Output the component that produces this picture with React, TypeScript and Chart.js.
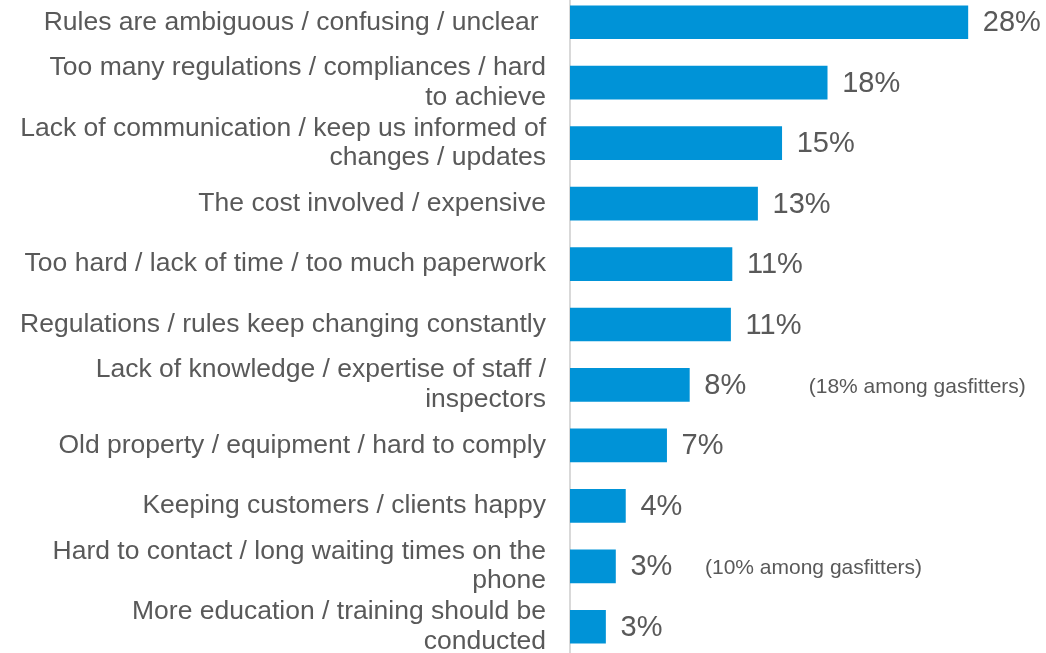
import React, { useEffect, useRef } from "react";
import { Chart, registerables } from "chart.js";

Chart.register(...registerables);

const categories: (string | string[])[] = [
  "Rules are ambiguous / confusing / unclear ",
  ["Too many regulations / compliances / hard", "to achieve"],
  ["Lack of communication / keep us informed of", "changes / updates"],
  "The cost involved / expensive",
  "Too hard / lack of time / too much paperwork",
  "Regulations / rules keep changing constantly",
  ["Lack of knowledge / expertise of staff /", "inspectors"],
  "Old property / equipment / hard to comply",
  "Keeping customers / clients happy",
  ["Hard to contact / long waiting times on the", "phone"],
  ["More education / training should be", "conducted"],
];

const values: number[] = [28, 18.1, 14.9, 13.2, 11.4, 11.3, 8.4, 6.8, 3.9, 3.2, 2.5];
const valueLabels: string[] = ["28%", "18%", "15%", "13%", "11%", "11%", "8%", "7%", "4%", "3%", "3%"];

const noteTexts: string[] = ["(18% among gasfitters)", "(10% among gasfitters)"];
const noteIndex: number[] = [6, 9];
const noteAt: number[] = [16.8, 9.5];

const FONT = "Arial, 'Liberation Sans', Helvetica, sans-serif";
const TEXT = "#595959";
const BAR = "#0093d7";

const labelPlugin = {
  id: "valueLabels",
  afterDatasetsDraw(chart: any) {
    const ctx = chart.ctx;
    const meta = chart.getDatasetMeta(0);
    const xs = chart.scales.x;
    ctx.save();
    ctx.fillStyle = TEXT;
    ctx.textBaseline = "middle";
    ctx.textAlign = "left";
    ctx.font = `29px ${FONT}`;
    meta.data.forEach((bar: any, i: number) => {
      ctx.fillText(valueLabels[i], bar.x + 15, bar.y + 1);
    });
    ctx.font = `21px ${FONT}`;
    noteTexts.forEach((t, k) => {
      const bar = meta.data[noteIndex[k]];
      ctx.fillText(t, xs.getPixelForValue(noteAt[k]), bar.y + 2);
    });
    ctx.restore();
  },
};

export default function App() {
  const ref = useRef<HTMLCanvasElement | null>(null);
  useEffect(() => {
    if (!ref.current) return;
    const chart = new Chart(ref.current, {
      type: "bar",
      data: {
        labels: categories,
        datasets: [
          {
            data: values,
            backgroundColor: BAR,
            barThickness: 33,
            borderWidth: 0,
          },
        ],
      },
      options: {
        indexAxis: "y",
        animation: false,
        responsive: false,
        maintainAspectRatio: false,
        layout: { padding: 0 },
        plugins: {
          legend: { display: false },
          tooltip: { enabled: false },
          title: { display: false },
        },
        scales: {
          x: {
            display: false,
            min: 0,
            max: 33.5,
          },
          y: {
            afterFit(scale: any) {
              scale.width = 570;
              scale.paddingTop = 0;
              scale.paddingBottom = 0;
            },
            grid: { display: true, color: "transparent", drawTicks: false },
            border: { display: true, color: "#d9d9d9", width: 2 },
            ticks: {
              padding: 24,
              color: TEXT,
              font: { family: FONT, size: 26.5, lineHeight: 1.12 },
              autoSkip: false,
            },
          },
        },
      },
      plugins: [labelPlugin],
    });
    return () => chart.destroy();
  }, []);
  return (
    <div style={{ position: "absolute", left: 0, top: -8, width: 1046, height: 665 }}>
      <canvas ref={ref} width={1046} height={665} style={{ display: "block" }} />
    </div>
  );
}
